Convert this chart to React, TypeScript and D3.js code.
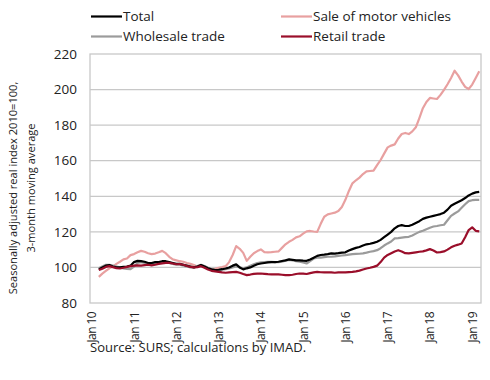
import React from "react";
import * as d3 from "d3";

// Month index 0 = Jan 2010; data starts at index 2 (Mar 2010), ends at index 110 (Mar 2019)
const startIndex = 2;
const monthCount = 111;

const yearLabels = ["Jan 10", "Jan 11", "Jan 12", "Jan 13", "Jan 14", "Jan 15", "Jan 16", "Jan 17", "Jan 18", "Jan 19"];
const yTicks = [80, 100, 120, 140, 160, 180, 200, 220];

const totalValues = [
  98.9, 100, 101, 101.3, 100.5, 100, 100, 100.3, 100.5, 101,
  103, 103.7, 103.5, 103.2, 102.5, 102.5, 103, 103, 103.5, 103.5,
  103, 102.5, 102, 102, 101.5, 101, 100.5, 100, 100.5, 101.3,
  100.5, 99.5, 98.9, 98.5, 98.7, 99, 99.4, 100, 101, 101.7,
  100, 98.9, 99.5, 100, 101, 101.8, 102.2, 102.5, 102.8, 103,
  103, 103.2, 103.6, 104, 104.5, 104.3, 104, 104, 103.8, 103.7,
  104.5, 105.5, 106.5, 107, 107.2, 107.5, 107.9, 107.8, 108, 108.3,
  108.5, 109.5, 110.3, 111, 111.5, 112.3, 113, 113.3, 113.8, 114.4,
  115.5, 117, 118.5, 120, 122, 123.3, 123.8, 123.3, 123.3, 124,
  125, 126, 127.3, 128, 128.5, 129, 129.5, 130, 130.8, 132.5,
  134.7, 135.8, 136.8, 137.8, 139, 140.5, 141.5, 142.2, 142.5,
];

const motorValues = [
  94.7, 96.5, 98, 99.5, 100.5, 102, 103.2, 104.5, 105, 106.9,
  107.5, 108.5, 109.3, 108.8, 108, 107.5, 107.8, 108.5, 109.3, 108,
  106, 104.5, 104, 103.5, 103.2, 102.5, 102, 101.3, 100.5, 100.8,
  100.3, 99.5, 98.9, 99.2, 99.8, 100.2, 100.7, 103, 107, 112,
  110.5, 108.2, 103.7, 106, 108, 109.2, 110.1, 108.6, 108.5, 108.6,
  108.8, 109, 111, 113, 114.4, 115.5, 116.9, 117.5, 119, 120.3,
  120.5, 120.2, 120, 124.5, 128.5, 129.8, 130.3, 130.8, 131.7, 134,
  138, 143, 147.3, 149, 150.5, 152.5, 154, 154.2, 154.4, 157.5,
  160.4, 164, 167.5, 168.5, 169.2, 172.5, 175, 175.6, 175, 176.5,
  178.8, 184, 189.5, 193, 195.3, 195, 194.7, 197, 199.8, 203,
  206.5, 210.6, 208, 204.5, 201.5, 200.3, 202.8, 206.5, 210.3,
];

const wholesaleValues = [
  99.5, 100.5, 101.5, 101.5, 101, 100.5, 100, 99.5, 99.2, 99,
  100.5, 102.5, 103, 102.5, 102, 102, 102.5, 102.8, 103, 103,
  102.5, 102, 101.5, 101.5, 101, 100.5, 100, 100, 100.8, 101.5,
  100.8, 99.8, 99, 98.5, 98.5, 98.8, 99, 99.5, 100, 100.5,
  100, 99.5, 100, 101, 101.8, 102.5, 102.8, 103, 103.2, 103.2,
  103, 103, 103.3, 103.8, 104.2, 104, 103.5, 103.2, 102.8, 102.2,
  103.5, 105, 105.5, 105.5, 105.8, 106, 106, 106.2, 106.5, 106.7,
  106.9, 107.2, 107.5, 107.6, 107.7, 107.9, 108.3, 108.8, 109.2, 109.7,
  110.8, 112.3, 113.5, 114.6, 116.3, 116.5, 116.8, 117, 117.2, 118,
  119, 120, 120.6, 121.5, 122.3, 123, 123.3, 123.7, 124, 126.5,
  129, 130.3, 131.5, 133.5, 135.5, 137.3, 137.8, 138, 138,
];

const retailValues = [
  98.5, 99.3, 100.3, 100.7, 100.2, 99.6, 99.4, 99.8, 100.3, 100.7,
  101, 101.2, 101, 101.3, 101.5, 101.2, 101.5, 102, 102.3, 102.6,
  102.6, 102.2, 101.8, 101.9, 101.5, 100.8, 100.3, 100, 100.2, 100.7,
  99.8, 98.8, 98.1, 97.8, 97.5, 97.2, 97, 97.2, 97.4, 97.5,
  97, 96.3, 95.7, 96, 96.4, 96.5, 96.6, 96.4, 96.2, 96.1,
  96.1, 96.1, 95.9, 95.7, 95.7, 95.9, 96.3, 96.6, 96.5, 96.3,
  96.8, 97.2, 97.5, 97.3, 97.2, 97.3, 97.2, 97, 97.2, 97.3,
  97.2, 97.4, 97.5, 97.8, 98.2, 98.8, 99.4, 99.8, 100.3, 101,
  103, 105.5, 107, 108, 109, 109.7, 109, 108, 107.9, 108.2,
  108.5, 108.8, 109, 109.6, 110.3, 109.5, 108.4, 108.6, 109, 110,
  111.3, 112.2, 112.8, 113.5, 117, 121, 122.5, 120.6, 120.3,
];

const seriesNames = ["Total", "Sale of motor vehicles", "Wholesale trade", "Retail trade"];
const seriesColors = ["#000000", "#E8A0A0", "#9B9B9B", "#9A0E2A"];

const FONT = "'Open Sans', sans-serif";

export default function App() {
  const width = 490;
  const height = 380;
  const left = 90;
  const right = 481;
  const top = 54;
  const bottom = 303;

  const x = d3.scaleLinear().domain([-0.5, monthCount - 0.5]).range([left, right]);
  const y = d3.scaleLinear().domain([80, 220]).range([bottom, top]);

  const mk = (vals: number[]) =>
    d3
      .line<number>()
      .x((_, i) => x(i + startIndex))
      .y((v) => y(v))(vals) || "";

  const series = [
    { vals: motorValues, color: seriesColors[1] },
    { vals: wholesaleValues, color: seriesColors[2] },
    { vals: totalValues, color: seriesColors[0] },
    { vals: retailValues, color: seriesColors[3] },
  ];

  const legend = [
    { name: seriesNames[0], color: seriesColors[0], lx: 91, ly: 16.5 },
    { name: seriesNames[1], color: seriesColors[1], lx: 281, ly: 16.5 },
    { name: seriesNames[2], color: seriesColors[2], lx: 91, ly: 36.5 },
    { name: seriesNames[3], color: seriesColors[3], lx: 281, ly: 36.5 },
  ];

  return (
    <svg width={width} height={height} style={{ position: "absolute", left: 0, top: 0 }} fontFamily={FONT}>
      <rect x={0} y={0} width={width} height={height} fill="#fff" />
      {yTicks.map((t) => (
        <g key={t}>
          {t > 80 && t < 220 && (
            <line x1={left} x2={right} y1={y(t)} y2={y(t)} stroke="#C8C8C8" strokeWidth={1.3} />
          )}
          <text x={77} y={y(t)} dy="0.35em" textAnchor="end" fontSize={13.5} fill="#222">
            {t}
          </text>
        </g>
      ))}
      <rect x={left} y={top} width={right - left} height={bottom - top} fill="none" stroke="#C8C8C8" strokeWidth={1.3} />
      {yearLabels.map((lab, k) => {
        const px = x(k * 12);
        return (
          <text
            key={lab}
            transform={`translate(${px + 4.5},312) rotate(-90)`}
            textAnchor="end"
            fontSize={12}
            letterSpacing={-0.6}
            fill="#222"
          >
            {lab}
          </text>
        );
      })}
      {series.map((s, i) => (
        <path key={i} d={mk(s.vals)} fill="none" stroke={s.color} strokeWidth={2.2} strokeLinejoin="round" />
      ))}
      {legend.map((l) => (
        <g key={l.name}>
          <line x1={l.lx} x2={l.lx + 31} y1={l.ly} y2={l.ly} stroke={l.color} strokeWidth={2.2} />
          <text x={l.lx + 32} y={l.ly} dy="0.35em" fontSize={13.5} fill="#222">
            {l.name}
          </text>
        </g>
      ))}
      <text transform="translate(17,188) rotate(-90)" textAnchor="middle" fontSize={11.1} fill="#222">
        Seasonally adjusted real index 2010=100,
      </text>
      <text transform="translate(35,188) rotate(-90)" textAnchor="middle" fontSize={11.1} fill="#222">
        3-month moving average
      </text>
      <text x={90} y={352} fontSize={13} fill="#222">
        Source: SURS; calculations by IMAD.
      </text>
    </svg>
  );
}
